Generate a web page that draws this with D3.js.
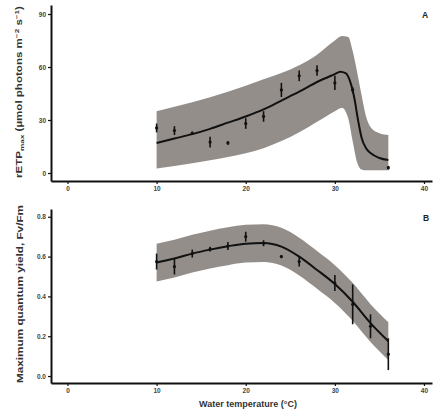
<!DOCTYPE html>
<html lang="en">
  <head>
    <meta charset="UTF-8">
    <script src="https://d3js.org/d3.v7.min.js"></script>
    <style>
      html,body{margin:0;padding:0;background:#fff;}
      text{font-family:"Liberation Sans",Arial,sans-serif;}
    </style>
  </head>
  <body>
    <svg id="chart" width="437" height="416"></svg>
  </body>
</html>
<script>
// ---- data ----
var xTicks = [0, 10, 20, 30, 40];

// panel A : rETPmax
var aTemp  = [10, 12, 14, 16, 18, 20, 22, 24, 26, 28, 30, 32, 36];
var aMean  = [25.5, 24, 22.5, 17.5, 17, 28, 32, 47, 55, 58, 51, 47, 3];
var aErr   = [2.5, 2.5, 1, 3, 1, 3, 3, 4, 3, 3, 4, 1.5, 1];
var aFitT  = [10, 12, 14, 16, 18, 20, 22, 24, 26, 28, 30, 30.6, 31.2, 31.7, 32.2, 32.6, 33, 33.5, 34, 35, 36];
var aFitY  = [17, 19.5, 22, 25, 28.5, 32, 36, 41, 46, 51.5, 56, 57.3, 56.5, 52, 42, 30, 20, 14, 11.3, 8.5, 7.3];
var aBandT = [10, 14, 18, 22, 26, 28, 30, 30.8, 31.5, 32, 32.5, 33, 33.5, 34, 35, 36];
var aBandHi= [35, 40, 46, 53, 61, 67, 75, 77.5, 77, 69, 57, 44, 32, 26, 22.5, 21.5];
var aBandLo= [2.5, 5.5, 9, 14, 23, 29, 35, 37, 31, 18, 6, 2, 1.5, 1.5, 1.5, 1.5];
var aTicks = [0, 30, 60, 90];

// panel B : Fv/Fm
var bTemp  = [10, 12, 14, 16, 18, 20, 22, 24, 26, 30, 32, 34, 36];
var bMean  = [0.575, 0.55, 0.615, 0.638, 0.653, 0.70, 0.667, 0.60, 0.575, 0.467, 0.36, 0.25, 0.11];
var bErr   = [0.04, 0.04, 0.02, 0.012, 0.02, 0.025, 0.015, 0.008, 0.025, 0.04, 0.1, 0.06, 0.08];
var bFitT  = [10, 12, 14, 16, 18, 20, 22, 24, 26, 28, 30, 32, 34, 36];
var bFitY  = [0.57, 0.59, 0.615, 0.635, 0.652, 0.665, 0.668, 0.65, 0.60, 0.533, 0.462, 0.373, 0.266, 0.175];
var bBand  = 0.095;
var bTicks = [0, 0.2, 0.4, 0.6, 0.8];

var svg = d3.select("#chart");
var band = "#938e8a";

var x = d3.scaleLinear().domain([-1.85, 40.9]).range([51, 432]);
var yA = d3.scaleLinear().domain([-4.53, 95.1]).range([181, 5]);
var yB = d3.scaleLinear().domain([-0.035, 0.839]).range([383, 209]);

function panel(y, ticks, fmt, xAxisY){
  var gx = svg.append("g").attr("transform", "translate(0," + xAxisY + ")")
      .call(d3.axisBottom(x).tickValues(xTicks).tickSize(3).tickPadding(2).tickSizeOuter(0));
  var gy = svg.append("g").attr("transform", "translate(" + x.range()[0] + ",0)")
      .call(d3.axisLeft(y).tickValues(ticks).tickFormat(fmt).tickSize(3).tickPadding(2).tickSizeOuter(0));
  [gx, gy].forEach(function(g){
    g.select(".domain").attr("stroke", "#111").attr("stroke-width", 2);
    g.selectAll(".tick line").attr("stroke", "#111").attr("stroke-width", 1.2);
    g.selectAll(".tick text").attr("font-size", 6.5).attr("font-weight", "bold").attr("fill", "#444");
  });
}

function marks(y, bandT, hi, lo, fitT, fitY, t, m, e){
  var area = d3.area().x(function(d){ return x(d[0]); })
      .y0(function(d){ return y(d[2]); }).y1(function(d){ return y(d[1]); })
      .curve(d3.curveMonotoneX);
  svg.append("path").datum(bandT.map(function(v, i){ return [v, hi[i], lo[i]]; }))
      .attr("d", area).attr("fill", band);
  var line = d3.line().x(function(d){ return x(d[0]); }).y(function(d){ return y(d[1]); })
      .curve(d3.curveMonotoneX);
  svg.append("path").datum(fitT.map(function(v, i){ return [v, fitY[i]]; }))
      .attr("d", line).attr("fill", "none").attr("stroke", "#111").attr("stroke-width", 2);
  var pts = svg.append("g");
  t.forEach(function(v, i){
    pts.append("line").attr("x1", x(v)).attr("x2", x(v))
        .attr("y1", y(m[i] - e[i])).attr("y2", y(m[i] + e[i]))
        .attr("stroke", "#111").attr("stroke-width", 1.6);
    pts.append("circle").attr("cx", x(v)).attr("cy", y(m[i])).attr("r", 1.6).attr("fill", "#111");
  });
}

// panel A
marks(yA, aBandT, aBandHi, aBandLo, aFitT, aFitY, aTemp, aMean, aErr);
panel(yA, aTicks, d3.format("d"), 181);

// panel B
var bHi = bFitY.map(function(v){ return v + bBand; });
var bLo = bFitY.map(function(v){ return v - bBand; });
marks(yB, bFitT, bHi, bLo, bFitT, bFitY, bTemp, bMean, bErr);
panel(yB, bTicks, d3.format(".1f"), 383);

// panel letters
svg.append("text").attr("x", 425).attr("y", 18).attr("text-anchor", "middle")
    .attr("font-size", 8.5).attr("font-weight", "bold").attr("fill", "#222").text("A");
svg.append("text").attr("x", 426).attr("y", 221).attr("text-anchor", "middle")
    .attr("font-size", 8.5).attr("font-weight", "bold").attr("fill", "#222").text("B");

// axis titles
var ta = svg.append("text").attr("transform", "translate(22,92) rotate(-90)")
    .attr("text-anchor", "middle").attr("font-size", 8.5).attr("font-weight", "bold").attr("fill", "#333")
    .attr("textLength", 172).attr("lengthAdjust", "spacingAndGlyphs");
ta.append("tspan").text("rETP");
ta.append("tspan").attr("font-size", 6).attr("dy", 2).text("max");
ta.append("tspan").attr("dy", -2).text(" (µmol photons m");
ta.append("tspan").attr("font-size", 6).attr("dy", -3).text("−2");
ta.append("tspan").attr("dy", 3).text(" s");
ta.append("tspan").attr("font-size", 6).attr("dy", -3).text("−1");
ta.append("tspan").attr("dy", 3).text(")");

svg.append("text").attr("transform", "translate(23,294) rotate(-90)")
    .attr("text-anchor", "middle").attr("font-size", 8.5).attr("font-weight", "bold").attr("fill", "#333")
    .attr("textLength", 178).attr("lengthAdjust", "spacingAndGlyphs")
    .text("Maximum quantum yield, Fv/Fm");

svg.append("text").attr("x", 248).attr("y", 407).attr("text-anchor", "middle")
    .attr("font-size", 9).attr("font-weight", "bold").attr("fill", "#333")
    .text("Water temperature (°C)");
</script>
